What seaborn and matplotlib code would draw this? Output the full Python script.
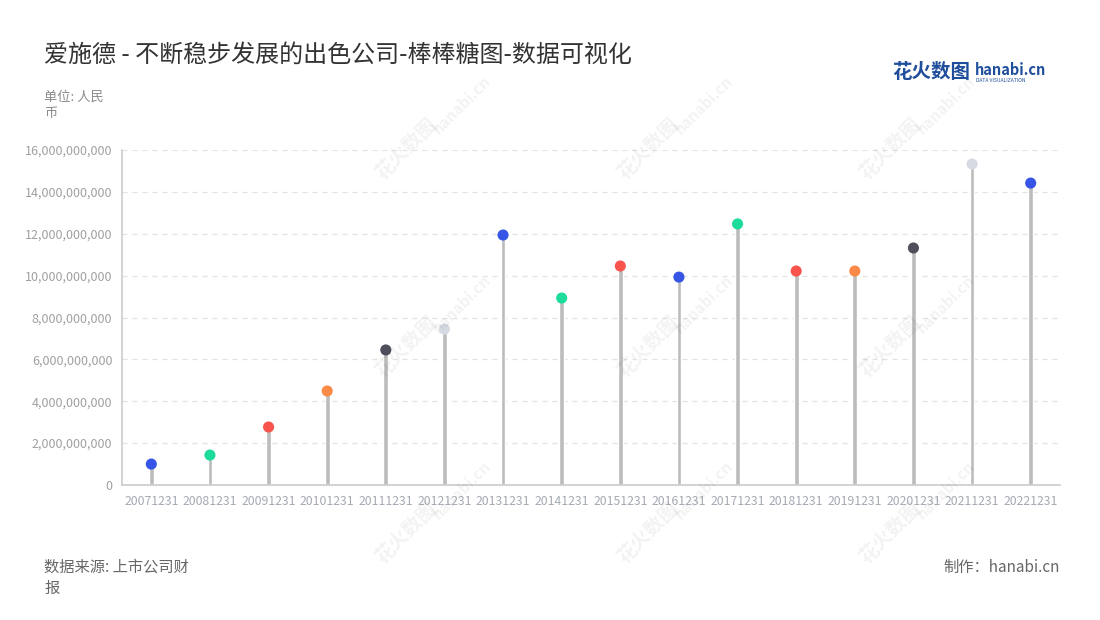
"""Lollipop chart: 爱施德 revenue by year."""

import matplotlib.pyplot as plt
import matplotlib.ticker as mticker
import pandas as pd
import seaborn as sns

dates = ["20071231", "20081231", "20091231", "20101231", "20111231", "20121231",
         "20131231", "20141231", "20151231", "20161231", "20171231", "20181231",
         "20191231", "20201231", "20211231", "20221231"]
values = [1.00e9, 1.43e9, 2.77e9, 4.49e9, 6.45e9, 7.45e9,
          11.94e9, 8.93e9, 10.46e9, 9.93e9, 12.47e9, 10.22e9,
          10.22e9, 11.32e9, 15.33e9, 14.42e9]
dot_colors = ["#3654e6", "#1ddc9b", "#f8544d", "#fb8a48", "#4e4f5a", "#d6dae2",
              "#3654e6", "#1ddc9b", "#f8544d", "#3654e6", "#1ddc9b", "#f8544d",
              "#fb8a48", "#4e4f5a", "#d6dae2", "#3654e6"]

df = pd.DataFrame({"date": dates, "value": values})

sns.set_style("white")
plt.rcParams["font.family"] = ["Noto Sans CJK SC", "DejaVu Sans"]

fig = plt.figure(figsize=(11, 6.2), dpi=100)
ax = fig.add_axes([122 / 1100, 1 - 485 / 620, 938 / 1100, 335 / 620])

# stems
sns.barplot(data=df, x="date", y="value", width=0.08, color="#bcbcbc",
            saturation=1, ax=ax, zorder=2)
# heads
sns.scatterplot(data=df, x="date", y="value", hue="date", palette=dot_colors,
                s=64, linewidth=0, legend=False, ax=ax, zorder=3)

ax.set_xlim(-0.5, len(dates) - 0.5)
ax.set_ylim(0, 16e9)
ax.set_yticks(range(0, 16_000_000_001, 2_000_000_000))
ax.yaxis.set_major_formatter(mticker.FuncFormatter(lambda v, p: f"{int(v):,}"))
ax.grid(axis="y", color="#e2e2e2", linestyle=(0, (4, 4)), linewidth=0.9, zorder=0)
ax.set_axisbelow(True)
ax.set_xlabel("")
ax.set_ylabel("")
for s in ["top", "right"]:
    ax.spines[s].set_visible(False)
for s in ["left", "bottom"]:
    ax.spines[s].set_color("#cccccc")
    ax.spines[s].set_linewidth(1.2)
ax.tick_params(axis="both", colors="#cccccc", length=4, width=1,
               labelcolor="#a4a9b3", labelsize=8.8, pad=3)
ax.tick_params(axis="y", labelsize=9, labelcolor="#a0a0a0")

# faint watermarks
for wx, wy in [(0.37, 0.76), (0.59, 0.76), (0.81, 0.76),
               (0.37, 0.44), (0.59, 0.44), (0.81, 0.44),
               (0.37, 0.14), (0.59, 0.14), (0.81, 0.14)]:
    fig.text(wx, wy, "花火数图", rotation=45, fontsize=14, color="#000000",
             alpha=0.05, ha="center", va="center", fontweight="bold")
    fig.text(wx + 0.05, wy + 0.07, "hanabi.cn", rotation=45, fontsize=11,
             color="#000000", alpha=0.05, ha="center", va="center",
             fontweight="bold")

fig.text(44 / 1100, 1 - 55 / 620, "爱施德 - 不断稳步发展的出色公司-棒棒糖图-数据可视化",
         fontsize=17.3, color="#333333", va="center")
fig.text(44 / 1100, 1 - 105 / 620, "单位: 人民\n币", fontsize=9.5,
         color="#8a8a8a", va="center", linespacing=1.3)
fig.text(44 / 1100, 1 - 578 / 620, "数据来源: 上市公司财\n报", fontsize=11,
         color="#666666", va="center", linespacing=1.3)
fig.text(1060 / 1100, 1 - 567 / 620, "制作：hanabi.cn", fontsize=11,
         color="#666666", va="center", ha="right")

# logo
fig.text(892 / 1100, 1 - 73 / 620, "花火数图", fontsize=14, color="#1f4e9c",
         fontweight="bold", va="center")
fig.text(975 / 1100, 1 - 70 / 620, "hanabi.cn", fontsize=10.5, color="#1f4e9c",
         fontweight="bold", va="center")
fig.text(976 / 1100, 1 - 80 / 620, "DATA VISUALIZATION", fontsize=3.6,
         color="#1f4e9c", va="center")

fig.savefig("out.png", dpi=100)
